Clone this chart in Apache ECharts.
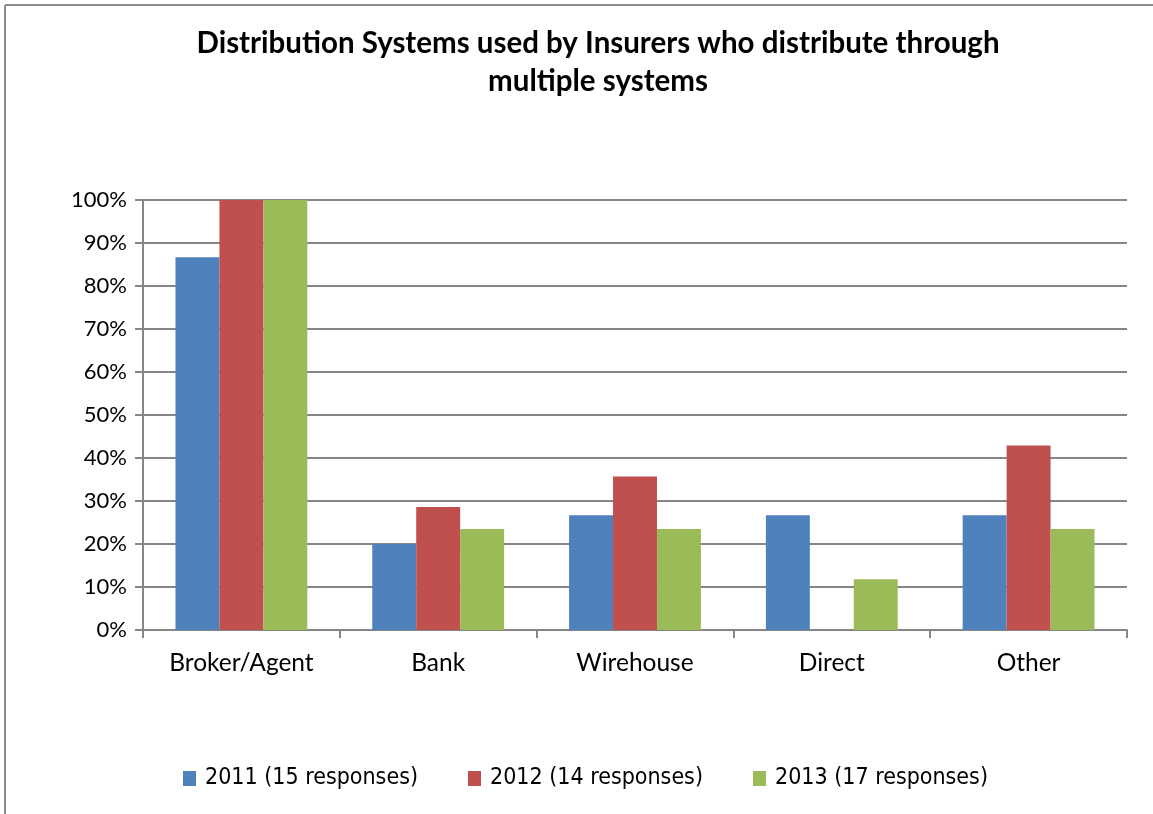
<!DOCTYPE html>
<html>
<head>
<meta charset="utf-8">
<script src="https://cdn.jsdelivr.net/npm/echarts@6/dist/echarts.min.js"></script>
<style>
  html, body { margin: 0; padding: 0; background: #ffffff; }
  #chart { width: 1153px; height: 814px; }
</style>
</head>
<body>
<div id="chart"></div>
<script>
// Share of insurers using each distribution system (percent)
const categories = ['Broker/Agent', 'Bank', 'Wirehouse', 'Direct', 'Other'];
const seriesNames = ['2011 (15 responses)', '2012 (14 responses)', '2013 (17 responses)'];
const values2011 = [86.7, 20.0, 26.7, 26.7, 26.7];
const values2012 = [100, 28.6, 35.7, 0, 42.9];
const values2013 = [100, 23.5, 23.5, 11.8, 23.5];
const colors = ['#4F81BD', '#C0504D', '#9BBB59'];

const chart = echarts.init(document.getElementById('chart'), null, { renderer: 'canvas' });

const baseFont = 'Lato, "Open Sans", sans-serif';

chart.setOption({
  backgroundColor: '#ffffff',
  animation: false,
  title: {
    text: 'Distribution Systems used by Insurers who distribute through\nmultiple systems',
    // anchored at its centre line, slightly right of the page middle
    left: 593,
    textAlign: 'center',
    top: 19,
    textStyle: {
      fontFamily: baseFont,
      fontWeight: 'bold',
      fontSize: 29.5,
      lineHeight: 38,
      color: '#000000'
    }
  },
  graphic: [
    { type: 'line', shape: { x1: 5, y1: 5, x2: 1153, y2: 5 }, style: { stroke: '#8c8c8c', lineWidth: 2 } },
    { type: 'line', shape: { x1: 5, y1: 5, x2: 5, y2: 814 }, style: { stroke: '#8c8c8c', lineWidth: 2 } }
  ],
  legend: {
    bottom: 19,
    left: 178,
    itemWidth: 13,
    itemHeight: 15,
    itemGap: 50,
    icon: 'rect',
    textStyle: {
      fontFamily: '"Liberation Sans Narrow", "DejaVu Sans Condensed", sans-serif',
      fontSize: 23,
      color: '#000000',
      padding: [0, 0, 0, 4]
    },
    data: seriesNames
  },
  grid: { left: 143, right: 26, top: 200, bottom: 184, containLabel: false },
  xAxis: {
    type: 'category',
    data: categories,
    axisLine: { lineStyle: { color: '#868686', width: 2 } },
    axisTick: { show: true, length: 8, lineStyle: { color: '#868686', width: 2 } },
    axisLabel: { margin: 21, fontFamily: baseFont, fontSize: 24.5, color: '#000000' }
  },
  yAxis: {
    type: 'value',
    min: 0,
    max: 100,
    interval: 10,
    axisLine: { show: true, lineStyle: { color: '#868686', width: 2 } },
    axisTick: { show: true, length: 8, lineStyle: { color: '#868686', width: 2 } },
    axisLabel: { margin: 16, fontFamily: baseFont, fontSize: 22, color: '#000000', formatter: '{value}%' },
    splitLine: { lineStyle: { color: '#868686', width: 2 } }
  },
  series: [values2011, values2012, values2013].map((vals, i) => ({
    name: seriesNames[i],
    type: 'bar',
    data: vals,
    barGap: '0%',
    barCategoryGap: '33%',
    itemStyle: { color: colors[i] }
  }))
});
</script>
</body>
</html>
